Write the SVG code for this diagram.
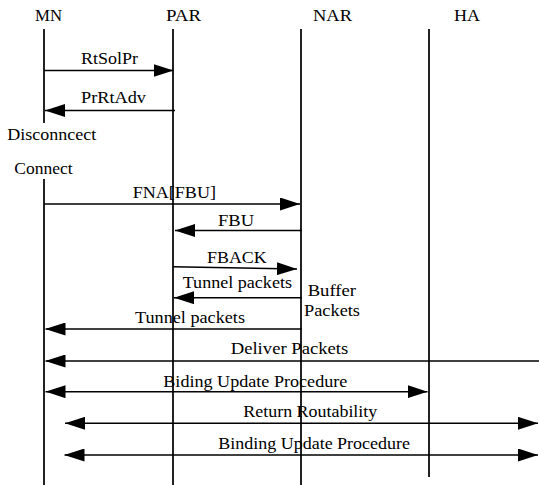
<svg xmlns="http://www.w3.org/2000/svg" width="539" height="485" viewBox="0 0 539 485">
<style>
text{font-family:"Liberation Serif","Times New Roman",serif;font-size:17.5px;fill:#000}
.life{stroke:#222;stroke-width:2;fill:none}
.msg{stroke:#000;stroke-width:1.5;fill:none;marker-end:url(#ah)}
.dbl{marker-start:url(#ah)}
</style>
<defs>
<marker id="ah" markerUnits="userSpaceOnUse" markerWidth="20" markerHeight="13" refX="20" refY="6.5" orient="auto-start-reverse" viewBox="0 0 20 13">
<path d="M0,0 L20,6.5 L0,13 z" fill="#000"/>
</marker>
</defs>
<rect width="539" height="485" fill="#fff"/>
<g id="MN">
<text x="35" y="21" textLength="27" lengthAdjust="spacingAndGlyphs">MN</text>
<line class="life" x1="44" y1="29" x2="44" y2="123"/>
<line class="life" x1="44" y1="179" x2="44" y2="485"/>
</g>
<g id="PAR">
<text x="166" y="21" textLength="35" lengthAdjust="spacingAndGlyphs">PAR</text>
<line class="life" x1="173" y1="29" x2="173" y2="485"/>
</g>
<g id="NAR">
<text x="313" y="21" textLength="39" lengthAdjust="spacingAndGlyphs">NAR</text>
<line class="life" x1="301" y1="29" x2="301" y2="485"/>
</g>
<g id="HA">
<text x="454" y="21" textLength="26" lengthAdjust="spacingAndGlyphs">HA</text>
<line class="life" x1="429" y1="29" x2="429" y2="477"/>
</g>
<g id="notes">
<text x="7.3" y="139.5" textLength="89" lengthAdjust="spacingAndGlyphs">Disconncect</text>
<text x="14.3" y="174" textLength="58.4" lengthAdjust="spacingAndGlyphs">Connect</text>
<text x="307.7" y="295.7" textLength="48.3" lengthAdjust="spacingAndGlyphs">Buffer</text>
<text x="304" y="315.7" textLength="56" lengthAdjust="spacingAndGlyphs">Packets</text>
</g>
<g id="connectors">
<line class="msg" x1="44" y1="70.5" x2="173.5" y2="70.5"/>
<line class="msg" x1="175" y1="110.5" x2="45" y2="110.5"/>
<line class="msg" x1="44" y1="204" x2="300" y2="204"/>
<line class="msg" x1="302" y1="230.5" x2="175" y2="230.5"/>
<line class="msg" x1="173" y1="266.7" x2="297" y2="269"/>
<line class="msg" x1="302" y1="297.7" x2="174" y2="297.7"/>
<line class="msg" x1="302" y1="329" x2="45.5" y2="329"/>
<line class="msg" x1="539" y1="361" x2="45.5" y2="361"/>
<line class="msg dbl" x1="45.5" y1="391.7" x2="427.5" y2="391.7"/>
<line class="msg dbl" x1="65" y1="423.3" x2="538" y2="423.3"/>
<line class="msg dbl" x1="64.5" y1="455" x2="538" y2="455"/>
</g>
<g id="labels">
<text x="81" y="64" textLength="57" lengthAdjust="spacingAndGlyphs">RtSolPr</text>
<text x="81" y="103" textLength="65" lengthAdjust="spacingAndGlyphs">PrRtAdv</text>
<text x="132.7" y="198.3" textLength="83.3" lengthAdjust="spacingAndGlyphs">FNA[FBU]</text>
<text x="218" y="225.7" textLength="36" lengthAdjust="spacingAndGlyphs">FBU</text>
<text x="207" y="262.7" textLength="59.7" lengthAdjust="spacingAndGlyphs">FBACK</text>
<text x="182.7" y="288.3" textLength="109.3" lengthAdjust="spacingAndGlyphs">Tunnel packets</text>
<text x="135" y="323.3" textLength="110" lengthAdjust="spacingAndGlyphs">Tunnel packets</text>
<text x="230.7" y="354" textLength="117.6" lengthAdjust="spacingAndGlyphs">Deliver Packets</text>
<text x="163.3" y="386.7" textLength="184" lengthAdjust="spacingAndGlyphs">Biding Update Procedure</text>
<text x="243.3" y="417.3" textLength="134" lengthAdjust="spacingAndGlyphs">Return Routability</text>
<text x="218.3" y="449" textLength="191.7" lengthAdjust="spacingAndGlyphs">Binding Update Procedure</text>
</g>
</svg>
